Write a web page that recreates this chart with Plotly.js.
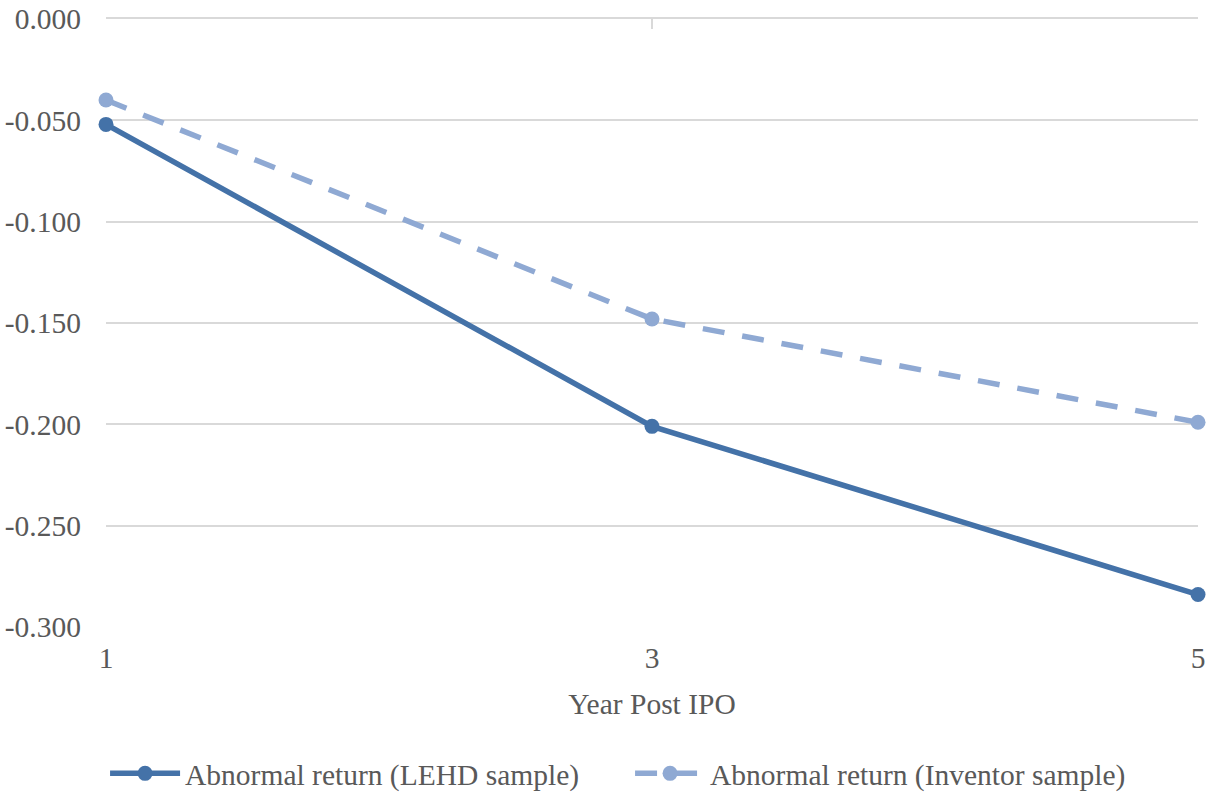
<!DOCTYPE html>
<html>
<head>
<meta charset="utf-8">
<script src="https://cdn.plot.ly/plotly-3.0.1.min.js"></script>
<style>html,body{margin:0;padding:0;background:#fff;}#chart{width:1214px;height:792px;}</style>
</head>
<body>
<div id="chart"></div>
<script>
const years = [1, 3, 5];
const lehdReturn = [-0.052, -0.201, -0.284];
const inventorReturn = [-0.040, -0.148, -0.199];
const seriesNames = ["Abnormal return (LEHD sample)", "Abnormal return (Inventor sample)"];
const yTicks = [0, -0.05, -0.10, -0.15, -0.20, -0.25, -0.30];
const yTickText = ["0.000", "-0.050", "-0.100", "-0.150", "-0.200", "-0.250", "-0.300"];

const font = "Liberation Serif, Times New Roman, serif";
const textColor = "#595959";
const fs = 29.5;
const xr = [0.99999, 5.00001];

const traces = [
  {
    x: years, y: lehdReturn, name: seriesNames[0], type: "scatter", mode: "lines+markers",
    line: {color: "#4472A8", width: 5.5},
    marker: {color: "#4472A8", size: 15},
    cliponaxis: false
  },
  {
    x: years, y: inventorReturn, name: seriesNames[1], type: "scatter", mode: "lines+markers",
    line: {color: "#8FA9D3", width: 5.5, dash: "22px,18px"},
    marker: {color: "#8FA9D3", size: 15},
    cliponaxis: false
  }
];

const layout = {
  width: 1214, height: 792,
  margin: {l: 106, r: 16, t: 19, b: 165},
  paper_bgcolor: "#ffffff", plot_bgcolor: "#ffffff",
  font: {family: font, size: fs, color: textColor},
  showlegend: true,
  legend: {
    orientation: "h", xref: "container", yref: "container",
    x: 0.519, xanchor: "center", y: 0.056, yanchor: "top",
    font: {family: font, size: fs, color: textColor},
    entrywidth: 440, entrywidthmode: "pixels",
    itemwidth: 70,
    traceorder: "normal"
  },
  xaxis: {
    range: xr, tickvals: years, ticktext: years.map(String),
    showline: false, showgrid: false, zeroline: false, ticks: "",
    ticklabelstandoff: 10,
    tickfont: {family: font, size: fs, color: textColor},
    title: {text: "Year Post IPO", font: {family: font, size: fs, color: textColor}, standoff: 20}
  },
  xaxis2: {
    overlaying: "x", side: "top", range: xr, tickvals: years,
    showticklabels: false, showgrid: false, zeroline: false,
    showline: true, linecolor: "#D9D9D9", linewidth: 2,
    ticks: "inside", ticklen: 10, tickcolor: "#D9D9D9", tickwidth: 2
  },
  yaxis: {
    range: [-0.3, 0], tickvals: yTicks, ticktext: yTickText,
    showgrid: true, gridcolor: "#D9D9D9", gridwidth: 2,
    zeroline: false, showline: false, ticks: "",
    ticklabelstandoff: 24,
    tickfont: {family: font, size: fs, color: textColor}
  }
};

const topAxisTrace = {x: years, y: [null, null, null], xaxis: "x2", yaxis: "y", showlegend: false, hoverinfo: "skip", mode: "lines"};

Plotly.newPlot("chart", [topAxisTrace].concat(traces), layout, {displayModeBar: false, staticPlot: true});
</script>
</body>
</html>
